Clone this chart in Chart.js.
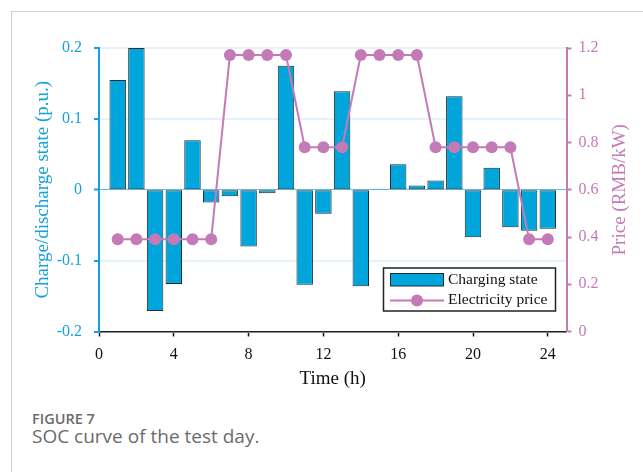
<!DOCTYPE html>
<html>
<head>
<meta charset="utf-8">
<script src="https://cdn.jsdelivr.net/npm/chart.js@4.4.0/dist/chart.umd.min.js"></script>
<style>
  html,body{margin:0;padding:0;background:#fff;}
  body{width:643px;height:472px;position:relative;overflow:hidden;}
  #frame{position:absolute;left:11px;top:11px;width:700px;height:500px;border-left:1px solid #cfcfcf;border-top:1px solid #cfcfcf;}
  #wrap{position:absolute;left:0;top:0;width:643px;height:400px;}
  .cap1{position:absolute;left:32px;top:409px;font-family:"Open Sans",sans-serif;font-weight:600;font-size:14.5px;color:#6b6b6b;line-height:20px;}
  .cap2{position:absolute;left:32px;top:425px;font-family:"Open Sans",sans-serif;font-size:19px;color:#6b6b6b;line-height:22px;}
</style>
</head>
<body>
<div id="frame"></div>
<div id="wrap"><canvas id="c" width="643" height="400"></canvas></div>
<div class="cap1">FIGURE 7</div>
<div class="cap2">SOC curve of the test day.</div>
<script>
const hours = [1,2,3,4,5,6,7,8,9,10,11,12,13,14,15,16,17,18,19,20,21,22,23,24];
const chargeState = [0.155,0.200,-0.171,-0.133,0.070,-0.018,-0.009,-0.080,-0.005,0.175,-0.134,-0.034,
                     0.139,-0.136,0.0015,0.036,0.006,0.013,0.132,-0.067,0.031,-0.053,-0.058,-0.055];
const price = [0.39,0.39,0.39,0.39,0.39,0.39,1.17,1.17,1.17,1.17,0.78,0.78,
               0.78,1.17,1.17,1.17,1.17,0.78,0.78,0.78,0.78,0.78,0.39,0.39];
const xTicks = [0,4,8,12,16,20,24];
const leftTicks = [-0.2,-0.1,0,0.1,0.2];
const rightTicks = [0,0.2,0.4,0.6,0.8,1,1.2];
const rightTitle = 'Price (RMB/kW)';

const CYAN = '#15A1DC';
const PINK = '#C57AB8';
const SERIF = '"Liberation Serif","Times New Roman",serif';

const legendPlugin = {
  id: 'boxLegend',
  afterDraw(chart) {
    const ctx = chart.ctx;
    const ds = chart.data.datasets;
    const x = 383.5, y = 268, w = 172, h = 43;
    ctx.save();
    ctx.fillStyle = '#fff';
    ctx.fillRect(x, y, w, h);
    ctx.strokeStyle = '#222';
    ctx.lineWidth = 1.5;
    ctx.strokeRect(x, y, w, h);
    ctx.fillStyle = ds[0].backgroundColor;
    ctx.fillRect(390.5, 273.5, 53, 12.5);
    ctx.strokeStyle = ds[0].borderColor;
    ctx.lineWidth = 1;
    ctx.strokeRect(390.5, 273.5, 53, 12.5);
    ctx.strokeStyle = ds[1].borderColor;
    ctx.lineWidth = 2;
    ctx.beginPath();
    ctx.moveTo(390, 300.5);
    ctx.lineTo(444, 300.5);
    ctx.stroke();
    ctx.fillStyle = ds[1].pointBackgroundColor;
    ctx.beginPath();
    ctx.arc(417, 300.5, 6, 0, Math.PI * 2);
    ctx.fill();
    ctx.fillStyle = '#111';
    ctx.font = '15.5px ' + SERIF;
    ctx.textBaseline = 'middle';
    ctx.textAlign = 'left';
    ctx.fillText(ds[0].label, 448, 280);
    ctx.fillText(ds[1].label, 448, 300);
    // right axis title, reading bottom-to-top
    const ca = chart.chartArea;
    ctx.save();
    ctx.translate(620, (ca.top + ca.bottom) / 2);
    ctx.rotate(-Math.PI / 2);
    ctx.fillStyle = PINK;
    ctx.font = '19px ' + SERIF;
    ctx.textAlign = 'center';
    ctx.textBaseline = 'middle';
    ctx.fillText(rightTitle, 0, 0);
    ctx.restore();
    ctx.restore();
  }
};

new Chart(document.getElementById('c'), {
  type: 'bar',
  data: {
    datasets: [
      {
        type: 'bar',
        label: 'Charging state',
        data: hours.map((h, i) => ({x: h, y: chargeState[i]})),
        backgroundColor: '#00A6DB',
        borderColor: '#1d2b33',
        borderWidth: 1,
        borderSkipped: false,
        barPercentage: 1,
        categoryPercentage: 0.88,
        yAxisID: 'y',
        order: 2
      },
      {
        type: 'line',
        label: 'Electricity price',
        data: hours.map((h, i) => ({x: h, y: price[i]})),
        borderColor: PINK,
        backgroundColor: PINK,
        pointBackgroundColor: PINK,
        pointBorderWidth: 0,
        pointRadius: 6,
        borderWidth: 2,
        tension: 0,
        yAxisID: 'y1',
        order: 1,
        clip: false
      }
    ]
  },
  options: {
    responsive: false,
    animation: false,
    events: [],
    layout: {padding: {top: 48, left: 0, right: 0, bottom: 0}},
    plugins: {legend: {display: false}, tooltip: {enabled: false}},
    scales: {
      x: {
        type: 'linear',
        min: 0, max: 25,
        offset: false,
        afterFit(s) { s.height = 68.5; },
        afterBuildTicks(s) { s.ticks = xTicks.map(v => ({value: v})); },
        ticks: {color: '#111', font: {family: SERIF, size: 16}, padding: 9, maxRotation: 0, includeBounds: false,
                callback: v => String(v)},
        grid: {offset: false, drawOnChartArea: false, drawTicks: true, tickLength: 5, tickColor: '#111', tickWidth: 1.5},
        border: {display: true, color: '#222', width: 1.5},
        title: {display: true, text: 'Time (h)', color: '#111', font: {family: SERIF, size: 19}, padding: {top: 0, bottom: 10}}
      },
      y: {
        type: 'linear',
        position: 'left',
        min: -0.2, max: 0.2,
        afterFit(s) { s.width = 99; },
        afterBuildTicks(s) { s.ticks = leftTicks.map(v => ({value: v})); },
        ticks: {color: CYAN, font: {family: SERIF, size: 16}, padding: 12, callback: v => String(v)},
        grid: {
          drawOnChartArea: true,
          drawTicks: true,
          tickLength: 5,
          tickColor: CYAN,
          tickWidth: 2,
          color: ctx => (ctx.tick && Math.abs(ctx.tick.value) < 1e-9) ? '#5cbde6' : '#e5f2fb',
          lineWidth: ctx => (ctx.tick && Math.abs(ctx.tick.value) < 1e-9) ? 1 : 2
        },
        border: {display: true, color: CYAN, width: 2},
        title: {display: true, text: 'Charge/discharge state (p.u.)', color: CYAN, font: {family: SERIF, size: 19}, padding: {top: 32, bottom: 0}}
      },
      y1: {
        type: 'linear',
        position: 'right',
        min: 0, max: 1.2,
        afterFit(s) { s.width = 76.5; },
        afterBuildTicks(s) { s.ticks = rightTicks.map(v => ({value: v})); },
        ticks: {color: PINK, font: {family: SERIF, size: 16}, padding: 7, callback: v => String(v)},
        grid: {drawOnChartArea: false, drawTicks: true, tickLength: 5, tickColor: PINK, tickWidth: 2},
        border: {display: true, color: PINK, width: 2},
        title: {display: false}
      }
    }
  },
  plugins: [legendPlugin]
});
</script>
</body>
</html>
